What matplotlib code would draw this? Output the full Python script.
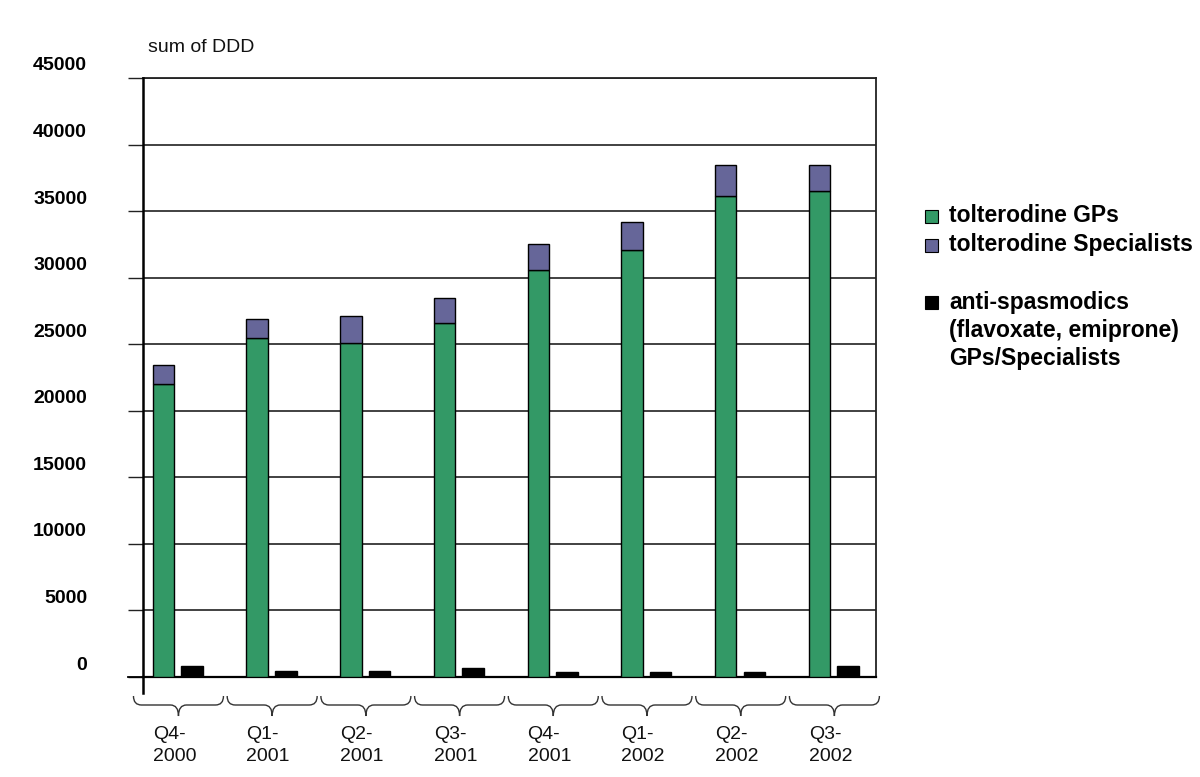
import matplotlib
matplotlib.use("Agg")
import matplotlib.pyplot as plt
import numpy as np
from matplotlib.path import Path
from matplotlib.patches import PathPatch, Rectangle
from matplotlib.transforms import ScaledTranslation, blended_transform_factory

plt.rcParams['font.family'] = ['Liberation Sans', 'DejaVu Sans']

categories = ["Q4-\n2000", "Q1-\n2001", "Q2-\n2001", "Q3-\n2001",
              "Q4-\n2001", "Q1-\n2002", "Q2-\n2002", "Q3-\n2002"]
tolterodine_gps = [22000, 25500, 25100, 26600, 30550, 32050, 36150, 36500]
tolterodine_specialists = [1450, 1400, 2000, 1850, 1950, 2150, 2300, 1950]
anti_spasmodics = [850, 450, 450, 650, 400, 400, 400, 850]
yticks = [0, 5000, 10000, 15000, 20000, 25000, 30000, 35000, 40000, 45000]
series_names = ["tolterodine GPs", "tolterodine Specialists",
                "anti-spasmodics\n(flavoxate, emiprone)\nGPs/Specialists"]
colors = ["#339966", "#666699", "#000000"]

W, H = 1200, 777
fig = plt.figure(figsize=(W / 100, H / 100), dpi=100)
ax = fig.add_axes([143 / W, (H - 677) / H, 733 / W, 599 / H])

x = np.arange(len(categories))
bw = 0.23
ax.bar(x - 0.155, tolterodine_gps, width=bw, color=colors[0], edgecolor="black", linewidth=1, zorder=3)
ax.bar(x - 0.155, tolterodine_specialists, width=bw, bottom=tolterodine_gps, color=colors[1],
       edgecolor="black", linewidth=1, zorder=3)
ax.bar(x + 0.15, anti_spasmodics, width=bw, color=colors[2], edgecolor="black", linewidth=1, zorder=3)

ax.set_xlim(-0.3735, 7.449)
ax.set_ylim(0, 45000)
ax.set_yticks(yticks)
ax.set_yticklabels([str(v) for v in yticks], fontsize=14, fontweight="bold")
ax.tick_params(axis="y", direction="out", length=10.8, width=1, pad=29.5, color="#222222")
off = ScaledTranslation(0, 0.14, fig.dpi_scale_trans)
for lab in ax.get_yticklabels():
    lab.set_transform(lab.get_transform() + off)
ax.set_xticks([])
ax.yaxis.grid(True, color="#333333", linewidth=1.3, zorder=0)
ax.set_axisbelow(True)
for s in ["top", "right"]:
    ax.spines[s].set_color("#222222")
    ax.spines[s].set_linewidth(1.3)
ax.spines["bottom"].set_linewidth(1.6)
ax.spines["left"].set_visible(False)
# left axis line extending below zero
ax.plot([0, 0], [-0.026, 1], transform=ax.transAxes, color="black", linewidth=1.8, clip_on=False, zorder=5)
ax.plot([-15 / 733, 0], [0, 0], transform=ax.transAxes, color="black", linewidth=1.3, clip_on=False)

# braces under categories
bt = blended_transform_factory(ax.transData, ax.transAxes)
top, mid, bot = -19 / 599, -28 / 599, -39 / 599
half = 45 / 93.7
r = 8 / 93.7
for i in x:
    c = float(i) + 0.005
    L, R = c - half, c + half
    verts = [(L, top), (L, mid), (L + r, mid), (c - r, mid), (c, mid), (c, bot),
             (c, mid), (c + r, mid), (R - r, mid), (R, mid), (R, top)]
    codes = [Path.MOVETO, Path.CURVE3, Path.CURVE3, Path.LINETO, Path.CURVE3, Path.CURVE3,
             Path.CURVE3, Path.CURVE3, Path.LINETO, Path.CURVE3, Path.CURVE3]
    ax.add_patch(PathPatch(Path(verts, codes), transform=bt, fill=False,
                           edgecolor="#333333", linewidth=1.0, clip_on=False))
    ax.text(float(i) - 0.27, -49 / 599, categories[i], transform=bt, ha="left", va="top",
            fontsize=14, linespacing=1.38, color="#111111")

fig.text(148 / W, 1 - 51.5 / H, "sum of DDD", fontsize=14, ha="left", va="baseline", color="#111111")

# legend
rows = [(216, 0), (245, 1)]
for yc, k in rows:
    fig.patches.append(Rectangle((925 / W, 1 - (yc + 7) / H), 13 / W, 13 / H, transform=fig.transFigure,
                                 facecolor=colors[k], edgecolor="black", linewidth=0.8))
    fig.text(949 / W, 1 - yc / H, series_names[k], fontsize=16.5, fontweight="bold",
             ha="left", va="center")
fig.patches.append(Rectangle((925 / W, 1 - 309 / H), 13 / W, 13 / H, transform=fig.transFigure,
                             facecolor=colors[2], edgecolor="black", linewidth=0.8))
for j, line in enumerate(series_names[2].split("\n")):
    fig.text(949 / W, 1 - (303 + 27.5 * j) / H, line, fontsize=16.5, fontweight="bold",
             ha="left", va="center")

fig.savefig("out.png", dpi=100)
